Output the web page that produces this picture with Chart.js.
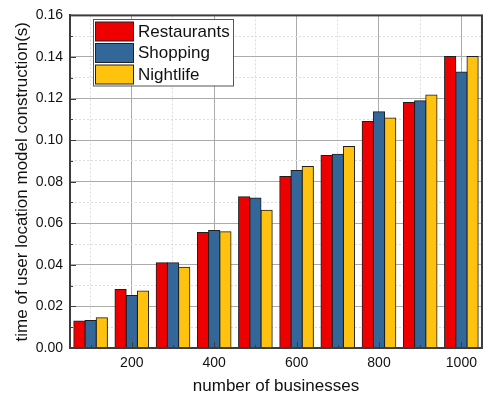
<!DOCTYPE html>
<html>
<head>
<meta charset="utf-8">
<title>Tiempo de construcción del modelo</title>
<script src="https://cdn.jsdelivr.net/npm/chart.js@4.4.1/dist/chart.umd.min.js"></script>
<style>
    html, body { margin: 0; padding: 0; background: #fff; }
    #wrap { width: 484px; height: 397px; }
</style>
</head>
<body>
<div id="wrap"><canvas id="chart-tiempo" width="484" height="397"></canvas></div>
<script>
// ==========================================
// Datos
// ==========================================
const businesses = ['100', '200', '300', '400', '500', '600', '700', '800', '900', '1000'];
const restaurants = [0.0130, 0.0282, 0.0410, 0.0556, 0.0727, 0.0825, 0.0926, 0.1089, 0.1181, 0.1402];
const shopping    = [0.0132, 0.0253, 0.0410, 0.0565, 0.0721, 0.0854, 0.0932, 0.1136, 0.1189, 0.1328];
const nightlife   = [0.0146, 0.0274, 0.0388, 0.0559, 0.0663, 0.0873, 0.0969, 0.1107, 0.1217, 0.1402];
const seriesNames = ['Restaurants', 'Shopping', 'Nightlife'];

const FONT = '"Liberation Sans", Arial, sans-serif';
const colores = ['#EE0000', '#336699', '#FFC20E'];
const ejeColor = '#3c3c3c';

// ==========================================
// Plugin: marco, ticks hacia adentro y leyenda
// ==========================================
const marcoPlugin = {
    id: 'marco',
    afterDraw(chart) {
        const ctx = chart.ctx;
        const area = chart.chartArea;
        const x = chart.scales.x;
        const y = chart.scales.y;

        ctx.save();
        ctx.strokeStyle = ejeColor;
        ctx.lineWidth = 1;

        // ticks del eje y (mayores cada 0.02)
        y.ticks.forEach((t, i) => {
            const py = Math.round(y.getPixelForTick(i)) + 0.5;
            const len = i % 2 ? 3 : 6;
            ctx.beginPath();
            ctx.moveTo(area.left, py);
            ctx.lineTo(area.left + len, py);
            ctx.stroke();
        });

        // ticks del eje x (mayores en 200, 400, ...)
        x.ticks.forEach((t, i) => {
            const px = Math.round(x.getPixelForTick(i)) + 0.5;
            const len = i % 2 ? 6 : 3;
            ctx.beginPath();
            ctx.moveTo(px, area.bottom);
            ctx.lineTo(px, area.bottom - len);
            ctx.stroke();
        });

        // marco completo
        ctx.lineWidth = 2;
        ctx.strokeRect(area.left, area.top, area.right - area.left, area.bottom - area.top);

        // leyenda
        const lx = 93, ly = 19, lw = 140, rowH = 21.5;
        ctx.fillStyle = '#fff';
        ctx.fillRect(lx, ly, lw, rowH * 3 + 2);
        ctx.lineWidth = 1;
        ctx.strokeStyle = '#555';
        ctx.strokeRect(lx + 0.5, ly + 0.5, lw, rowH * 3 + 2);

        ctx.font = '17px ' + FONT;
        ctx.textBaseline = 'middle';
        chart.data.datasets.forEach((ds, i) => {
            const ry = ly + 3 + i * rowH;
            ctx.fillStyle = ds.backgroundColor;
            ctx.fillRect(lx + 2.5, ry, 38, 19);
            ctx.strokeStyle = '#222';
            ctx.strokeRect(lx + 2.5, ry, 38, 19);
            ctx.fillStyle = '#111';
            ctx.fillText(ds.label, lx + 45, ry + 10);
        });
        ctx.restore();
    }
};

// ==========================================
// Gráfica de barras
// ==========================================
function crearDataset(label, data, color) {
    return {
        label: label,
        data: data,
        backgroundColor: color,
        borderColor: '#1e1e1e',
        borderWidth: 1,
        borderSkipped: false,
        inflateAmount: 0.5,
        categoryPercentage: 0.816,
        barPercentage: 1.0
    };
}

const ctxTiempo = document.getElementById('chart-tiempo');
new Chart(ctxTiempo, {
    type: 'bar',
    data: {
        labels: businesses,
        datasets: [
            crearDataset(seriesNames[0], restaurants, colores[0]),
            crearDataset(seriesNames[1], shopping, colores[1]),
            crearDataset(seriesNames[2], nightlife, colores[2])
        ]
    },
    options: {
        responsive: false,
        animation: false,
        devicePixelRatio: 1,
        layout: { padding: { left: 0, right: 1, top: 15, bottom: 0 } },
        plugins: {
            legend: { display: false },
            tooltip: { enabled: false }
        },
        scales: {
            x: {
                offset: true,
                afterFit: (scale) => { scale.height = 49; },
                grid: {
                    offset: false,
                    drawTicks: false,
                    color: (c) => c.index % 2 ? '#ababab' : '#dcdcdc'
                },
                border: {
                    color: ejeColor,
                    width: 2,
                    dash: (c) => (c.index !== undefined && c.index % 2 === 0) ? [2, 2] : []
                },
                ticks: {
                    autoSkip: false,
                    maxRotation: 0,
                    padding: 7,
                    color: '#111',
                    font: { family: FONT, size: 14 },
                    callback: (v, i) => i % 2 ? businesses[i] : ''
                },
                title: {
                    display: true,
                    text: 'number of businesses',
                    color: '#111',
                    font: { family: FONT, size: 17 },
                    padding: { top: 4, bottom: 0 }
                }
            },
            y: {
                min: 0,
                max: 0.16,
                afterFit: (scale) => { scale.width = 70; },
                grid: {
                    drawTicks: false,
                    color: (c) => c.index % 2 ? '#dcdcdc' : '#ababab'
                },
                border: {
                    color: ejeColor,
                    width: 2,
                    dash: (c) => (c.index !== undefined && c.index % 2 === 1) ? [2, 2] : []
                },
                ticks: {
                    stepSize: 0.01,
                    autoSkip: false,
                    padding: 7,
                    color: '#111',
                    font: { family: FONT, size: 14 },
                    callback: (v, i) => i % 2 ? '' : v.toFixed(2)
                },
                title: {
                    display: true,
                    text: 'time of user location model construction(s)',
                    color: '#111',
                    font: { family: FONT, size: 17 },
                    padding: { top: 12, bottom: 0 }
                }
            }
        }
    },
    plugins: [marcoPlugin]
});
</script>
</body>
</html>
